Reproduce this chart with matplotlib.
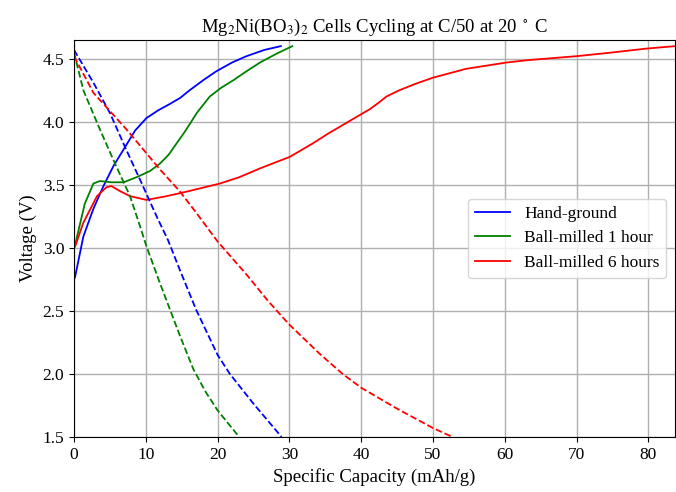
import matplotlib
matplotlib.use("Agg")
import matplotlib.pyplot as plt

plt.rcParams['font.family'] = ['Liberation Serif', 'DejaVu Serif']
plt.rcParams['mathtext.fontset'] = 'stix'

# charge (solid) curves
hand_chg_x = [0, 0.15, 1.3, 2.7, 4.1, 5.5, 6.9, 8.5, 10.1, 11.7, 13.3, 14.8, 16.1, 18.0, 19.8, 22.0, 24.0, 26.5, 28.8]
hand_chg_y = [2.75, 2.77, 3.09, 3.31, 3.49, 3.65, 3.78, 3.93, 4.03, 4.09, 4.14, 4.19, 4.25, 4.33, 4.40, 4.47, 4.52, 4.57, 4.60]

bm1_chg_x = [0, 0.3, 1.5, 2.7, 3.6, 5.2, 6.9, 8.7, 10.6, 12.0, 13.2, 14.3, 15.3, 16.1, 17.1, 18.9, 20.5,
             22.2, 24.0, 25.9, 28.2, 30.4]
bm1_chg_y = [3.0, 3.06, 3.35, 3.51, 3.53, 3.52, 3.52, 3.56, 3.61, 3.67, 3.74, 3.83, 3.91, 3.98, 4.07, 4.20, 4.27,
             4.33, 4.40, 4.47, 4.54, 4.60]

bm6_chg_x = [0, 0.15, 1.3, 3.2, 4.5, 5.2, 6.4, 7.8, 10.1, 12.9, 16.0, 20.3, 23.0, 25.9, 28.6, 30.0, 33.3,
             35.5, 37.9, 40.0, 41.2, 42.4, 43.5, 45.3, 47.5, 50.0, 54.6, 60.2, 63.4, 69.9, 75.0, 79.6, 83.7]
bm6_chg_y = [3.0, 3.01, 3.20, 3.41, 3.48, 3.49, 3.45, 3.41, 3.38, 3.41, 3.45, 3.51, 3.56, 3.63, 3.69, 3.72, 3.83,
             3.91, 3.99, 4.06, 4.10, 4.15, 4.20, 4.25, 4.30, 4.35, 4.42, 4.47, 4.49, 4.52, 4.55, 4.58, 4.60]

# discharge (dashed) curves
hand_dis_x = [0, 2.7, 5.0, 7.1, 9.2, 11.5, 13.1, 14.7, 17.0, 20.0, 21.7, 24.9, 28.9]
hand_dis_y = [4.57, 4.31, 4.07, 3.80, 3.54, 3.25, 3.06, 2.83, 2.51, 2.15, 2.00, 1.77, 1.50]

bm1_dis_x = [0, 1.3, 3.6, 5.7, 7.8, 9.2, 10.1, 11.9, 13.3, 14.7, 16.6, 18.3, 20.0, 23.0]
bm1_dis_y = [4.55, 4.25, 3.94, 3.67, 3.41, 3.17, 3.01, 2.73, 2.52, 2.31, 2.04, 1.86, 1.71, 1.50]

bm6_dis_x = [0, 2.7, 7.3, 12.0, 14.7, 17.0, 20.0, 22.0, 24.0, 27.0, 30.0, 34.2, 37.4, 40.0, 44.8, 50.0, 52.7]
bm6_dis_y = [4.52, 4.23, 3.94, 3.62, 3.45, 3.28, 3.05, 2.92, 2.79, 2.58, 2.39, 2.16, 2.00, 1.89, 1.73, 1.57, 1.50]

fig, ax = plt.subplots(figsize=(6.76, 4.92), dpi=100)
fig.subplots_adjust(left=0.1095, right=0.9985, top=0.919, bottom=0.112)

ax.plot(hand_chg_x, hand_chg_y, color='blue', lw=1.3, label='Hand-ground')
ax.plot(bm1_chg_x, bm1_chg_y, color='green', lw=1.3, label='Ball-milled 1 hour')
ax.plot(bm6_chg_x, bm6_chg_y, color='red', lw=1.3, label='Ball-milled 6 hours')
ax.plot(hand_dis_x, hand_dis_y, color='blue', lw=1.3, ls='--')
ax.plot(bm1_dis_x, bm1_dis_y, color='green', lw=1.3, ls='--')
ax.plot(bm6_dis_x, bm6_dis_y, color='red', lw=1.3, ls='--')

ax.set_xlim(0, max(bm6_chg_x))
ax.set_ylim(1.5, 4.65)
ax.grid(True, color='#b0b0b0', lw=1)
ax.tick_params(labelsize=12.5)
ax.set_xlabel('Specific Capacity (mAh/g)', fontsize=13.5)
ax.set_ylabel('Voltage (V)', fontsize=13.5)
ax.set_title(r'Mg$_2$Ni(BO$_3$)$_2$ Cells Cycling at C/50 at 20 $^\circ$ C', fontsize=13.5)
ax.legend(loc='center right', fontsize=12.5)

fig.savefig('out.png', dpi=100)
